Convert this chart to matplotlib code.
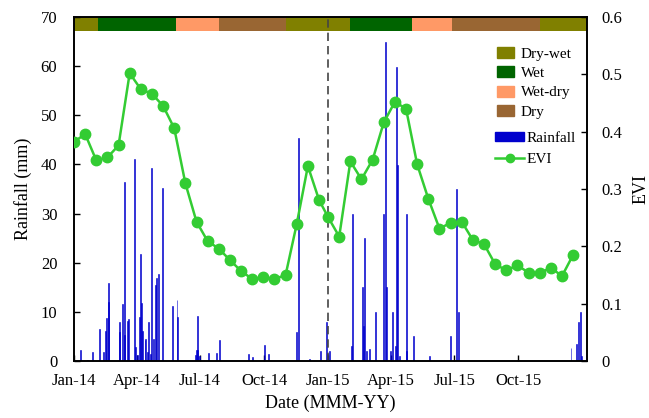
import datetime as dt

import matplotlib
matplotlib.use("Agg")
import matplotlib.dates as mdates
from matplotlib import pyplot as plt
from matplotlib.lines import Line2D
from matplotlib.patches import Patch

plt.rcParams['font.family'] = ['Liberation Serif', 'DejaVu Serif']

# daily rainfall: days since 2014-01-01 and amount (mm)
rain_day = [9, 19, 27, 37, 42, 45, 47, 49, 50, 65, 66, 70, 72, 73, 77, 79,
            87, 88, 91, 94, 96, 97, 99, 102, 103, 105, 107, 110, 112, 114,
            117, 119, 121, 127, 141, 148, 149, 174, 176, 177, 178, 181, 193,
            205, 209, 250, 256, 274, 279, 319, 322, 339, 354, 363, 364, 367,
            398, 400, 414, 416, 418, 420, 425, 433, 445, 448, 449, 454, 457,
            462, 463, 465, 468, 477, 478, 488, 511, 541, 550, 553, 714, 722,
            725, 727, 729]
rain_mm = [2.2, 0.3, 1.8, 6.6, 1.8, 6.2, 8.7, 15.8, 12.1, 8.0, 5.8, 11.6,
           36.4, 5.3, 8.2, 8.5, 41.1, 2.8, 1.3, 9.0, 21.8, 11.8, 6.2, 4.3,
           4.5, 1.8, 8.0, 1.4, 39.3, 4.5, 15.5, 16.8, 17.7, 35.3, 11.1, 12.4,
           9.0, 1.2, 2.2, 9.1, 2.2, 1.0, 1.6, 1.6, 4.3, 1.4, 0.9, 3.3, 1.4,
           5.8, 45.3, 0.5, 2.1, 8.0, 1.5, 2.0, 3.1, 30.0, 15.1, 7.1, 25.0,
           2.0, 2.5, 10.0, 30.0, 64.9, 15.1, 2.0, 10.0, 3.0, 59.9, 39.9, 1.0,
           30.0, 2.0, 5.1, 1.0, 5.1, 34.9, 10.0, 2.6, 3.5, 8.0, 10.0, 1.0]

# EVI 16-day composites (MODIS day-of-year), 2014 then 2015
evi_years = [2014, 2015]
modis_doy = list(range(1, 366, 16))
evi = [0.382, 0.396, 0.350, 0.355, 0.376, 0.502, 0.474, 0.466, 0.445, 0.406,
       0.310, 0.243, 0.209, 0.196, 0.176, 0.157, 0.143, 0.146, 0.143, 0.150,
       0.239, 0.340, 0.281,
       0.251, 0.217, 0.348, 0.317, 0.351, 0.416, 0.452, 0.440, 0.343, 0.283,
       0.231, 0.241, 0.243, 0.211, 0.204, 0.169, 0.158, 0.167, 0.154, 0.153,
       0.163, 0.148, 0.185]

# seasons shown in the top band
season_edges = ['2014-01-01', '2014-02-04', '2014-05-28', '2014-07-28',
                '2014-11-01', '2015-02-01', '2015-05-01', '2015-06-28',
                '2015-11-01', '2016-01-08']
season_names = ['Dry-wet', 'Wet', 'Wet-dry', 'Dry',
                'Dry-wet', 'Wet', 'Wet-dry', 'Dry', 'Dry-wet']
season_colors = {'Dry-wet': '#808000', 'Wet': '#006400',
                 'Wet-dry': '#FF9966', 'Dry': '#996633'}

tick_dates = ['2014-01-01', '2014-04-01', '2014-07-01', '2014-10-01',
              '2015-01-01', '2015-04-01', '2015-07-01', '2015-10-01']

start = dt.datetime(2014, 1, 1)
rain_dates = [start + dt.timedelta(days=d) for d in rain_day]
evi_dates = [dt.datetime(y, 1, 1) + dt.timedelta(days=d - 1)
             for y in evi_years for d in modis_doy]
edges = [dt.datetime.strptime(s, '%Y-%m-%d') for s in season_edges]
ticks = [dt.datetime.strptime(s, '%Y-%m-%d') for s in tick_dates]

fig = plt.figure(figsize=(6.49, 4.18), dpi=100)
ax = fig.add_axes([0.114, 0.1364, 0.7905, 0.8229])
ax2 = ax.twinx()

ax.bar(rain_dates, rain_mm, width=1.4, color='#0000CD',
       edgecolor='#0000CD', linewidth=0.4, zorder=2)
for i, name in enumerate(season_names):
    ax.axvspan(edges[i], edges[i + 1], ymin=0.959, ymax=1.0,
               color=season_colors[name], linewidth=0, zorder=1)
ax.axvline(dt.datetime(2015, 1, 1), color='#444444', linestyle=(0, (5, 3)),
           linewidth=1.2, zorder=3)

ax2.plot(evi_dates, evi, color='#33CC33', linewidth=1.8, marker='o',
         markersize=7.5, zorder=4)

ax.set_xlim(edges[0], edges[-1])
ax.set_ylim(0, 70)
ax2.set_ylim(0, 0.6)
ax.set_yticks(range(0, 71, 10))
ax2.set_yticks([0, 0.1, 0.2, 0.3, 0.4, 0.5, 0.6])
ax2.set_yticklabels(['0', '0.1', '0.2', '0.3', '0.4', '0.5', '0.6'])
ax.set_xticks(ticks)
ax.xaxis.set_major_formatter(mdates.DateFormatter('%b-%y'))

for a in (ax, ax2):
    a.tick_params(direction='in', labelsize=12, length=4, width=1)
    for sp in a.spines.values():
        sp.set_linewidth(1.2)
ax.tick_params(axis='x', pad=9)
ax.tick_params(axis='y', pad=12)
ax2.tick_params(axis='y', pad=10)

ax.set_xlabel('Date (MMM-YY)', fontsize=13, labelpad=4)
ax.set_ylabel('Rainfall (mm)', fontsize=13, labelpad=6)
ax2.set_ylabel('EVI', fontsize=13, labelpad=8)

season_handles = [Patch(color=season_colors[n]) for n in
                  ['Dry-wet', 'Wet', 'Wet-dry', 'Dry']]
leg1 = fig.legend(season_handles, ['Dry-wet', 'Wet', 'Wet-dry', 'Dry'],
                  loc='upper left', bbox_to_anchor=(497 / 649, 1 - 47 / 418),
                  frameon=False, fontsize=11, borderpad=0, borderaxespad=0,
                  handlelength=1.1, handleheight=0.75, handletextpad=0.45,
                  labelspacing=0.35)
leg2 = fig.legend([Patch(color='#0000CD'),
                   Line2D([], [], color='#33CC33', lw=1.8, marker='o',
                          markersize=6)],
                  ['Rainfall', 'EVI'], loc='upper left',
                  bbox_to_anchor=(495 / 649, 1 - 132 / 418), frameon=False,
                  fontsize=11, borderpad=0, borderaxespad=0,
                  handlelength=1.9, handleheight=0.55, handletextpad=0.15,
                  labelspacing=0.5)

fig.savefig('out.png', dpi=100)
